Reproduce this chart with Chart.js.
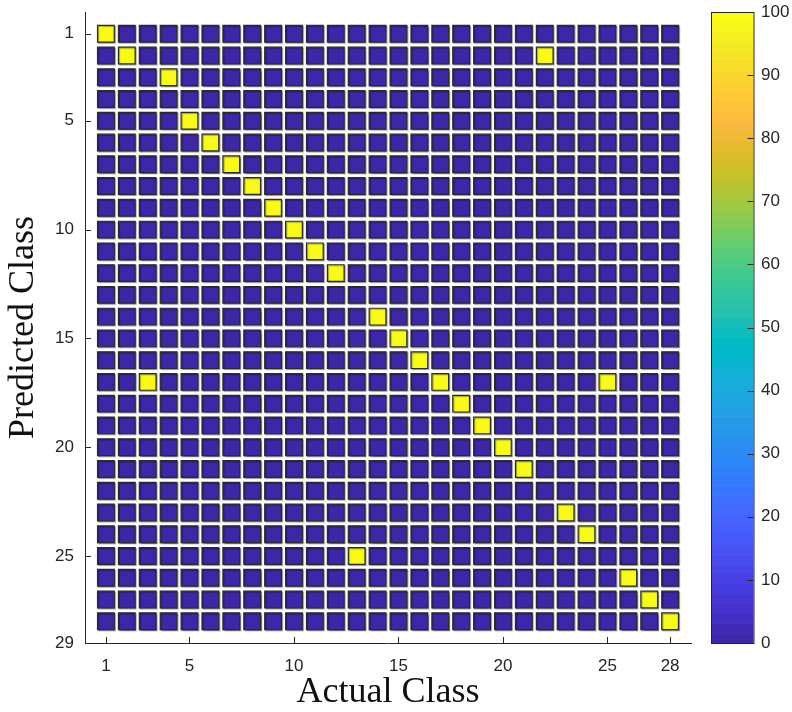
<!DOCTYPE html>
<html>
<head>
<meta charset="utf-8">
<script src="https://cdn.jsdelivr.net/npm/chart.js@4.4.1/dist/chart.umd.min.js"></script>
<style>
  html, body { margin: 0; padding: 0; background: #ffffff; }
  #wrap { width: 792px; height: 712px; }
</style>
</head>
<body>
<div id="wrap"><canvas id="cm" width="792" height="712"></canvas></div>
<script>
// Class labels along both axes
const classes = [1, 2, 3, 4, 5, 6, 7, 8, 9, 10, 11, 12, 13, 14, 15, 16, 17, 18, 19, 20, 21, 22, 23, 24, 25, 26, 27, 28];

// Non-zero cells: actual class -> predicted class, in percent of that actual class
const hitActual    = [1, 2, 3, 4, 5, 6, 7, 8, 9, 10, 11, 12, 13, 14, 15, 16, 17, 18, 19, 20, 21, 22, 23, 24, 25, 26, 27, 28];
const hitPredicted = [1, 2, 17, 3, 5, 6, 7, 8, 9, 10, 11, 12, 25, 14, 15, 16, 17, 18, 19, 20, 21, 2, 23, 24, 17, 26, 27, 28];
const hitPercent   = [100, 100, 100, 100, 100, 100, 100, 100, 100, 100, 100, 100, 100, 100, 100, 100, 100, 100, 100, 100, 100, 100, 100, 100, 100, 100, 100, 100];

// Axis tick labels
const xTicks = [1, 5, 10, 15, 20, 25, 28];
const yTicks = [1, 5, 10, 15, 20, 25, 29];
const colorbarTicks = [0, 10, 20, 30, 40, 50, 60, 70, 80, 90, 100];

// Parula colormap, 64 steps
const parula = [
  [0.2422,0.1504,0.6603],[0.2504,0.1650,0.7076],[0.2578,0.1818,0.7511],[0.2647,0.1978,0.7952],
  [0.2706,0.2147,0.8364],[0.2751,0.2342,0.8710],[0.2783,0.2559,0.8991],[0.2803,0.2782,0.9221],
  [0.2813,0.3006,0.9414],[0.2810,0.3228,0.9579],[0.2795,0.3447,0.9717],[0.2760,0.3667,0.9829],
  [0.2699,0.3892,0.9906],[0.2602,0.4123,0.9952],[0.2440,0.4358,0.9988],[0.2206,0.4603,0.9973],
  [0.1963,0.4847,0.9892],[0.1834,0.5074,0.9798],[0.1786,0.5289,0.9682],[0.1764,0.5499,0.9520],
  [0.1687,0.5703,0.9359],[0.1540,0.5902,0.9218],[0.1460,0.6091,0.9079],[0.1380,0.6276,0.8973],
  [0.1248,0.6459,0.8883],[0.1113,0.6635,0.8763],[0.0952,0.6798,0.8598],[0.0689,0.6948,0.8394],
  [0.0297,0.7082,0.8163],[0.0036,0.7203,0.7917],[0.0067,0.7312,0.7660],[0.0433,0.7411,0.7394],
  [0.0964,0.7500,0.7120],[0.1408,0.7584,0.6842],[0.1717,0.7670,0.6554],[0.1938,0.7758,0.6251],
  [0.2161,0.7843,0.5923],[0.2470,0.7918,0.5567],[0.2906,0.7973,0.5188],[0.3406,0.8008,0.4789],
  [0.3909,0.8029,0.4354],[0.4456,0.8024,0.3909],[0.5044,0.7993,0.3480],[0.5616,0.7942,0.3045],
  [0.6174,0.7876,0.2612],[0.6720,0.7793,0.2227],[0.7242,0.7698,0.1910],[0.7738,0.7598,0.1646],
  [0.8203,0.7498,0.1535],[0.8634,0.7406,0.1596],[0.9035,0.7330,0.1774],[0.9393,0.7288,0.2100],
  [0.9728,0.7298,0.2394],[0.9956,0.7434,0.2371],[0.9970,0.7659,0.2199],[0.9952,0.7893,0.2028],
  [0.9892,0.8136,0.1885],[0.9786,0.8386,0.1766],[0.9676,0.8639,0.1643],[0.9610,0.8890,0.1537],
  [0.9597,0.9135,0.1423],[0.9628,0.9373,0.1265],[0.9691,0.9606,0.1064],[0.9769,0.9839,0.0805]
];
const CMIN = 0, CMAX = 100;

function rgbOf(c) {
  return 'rgb(' + Math.round(c[0] * 255) + ',' + Math.round(c[1] * 255) + ',' + Math.round(c[2] * 255) + ')';
}
function colorFor(v) {
  const t = Math.min(1, Math.max(0, (v - CMIN) / (CMAX - CMIN)));
  return rgbOf(parula[Math.min(parula.length - 1, Math.floor(t * parula.length))]);
}

// Full matrix: every (actual, predicted) pair, zero unless listed above
const cells = [];
for (const p of classes) {
  for (const a of classes) {
    let v = 0;
    for (let k = 0; k < hitActual.length; k++) {
      if (hitActual[k] === a && hitPredicted[k] === p) v = hitPercent[k];
    }
    cells.push({ x: a, y: p, v: v });
  }
}

const INK = '#262626';
const tickFont = { family: '"Liberation Sans", Arial, Helvetica, sans-serif', size: 17 };
const titleFont = { family: '"Liberation Serif", "Times New Roman", serif', size: 36, lineHeight: 1 };

// Keep label overflow from pushing the plot area around
function tightVertical(width) {
  return (s) => {
    s.width = width;
    s.paddingTop = 8;
    s.paddingBottom = 8;
  };
}

// Inward tick marks on both axes, plus the colorbar with its own ticks
const decorations = {
  id: 'decorations',
  beforeDatasetsDraw(chart) {
    const ctx = chart.ctx;
    ctx.save();
    ctx.shadowColor = 'rgba(0,0,0,0.35)';
    ctx.shadowOffsetX = 1;
    ctx.shadowOffsetY = 1;
    ctx.shadowBlur = 1;
  },
  afterDatasetsDraw(chart) {
    chart.ctx.restore();
  },
  afterDraw(chart) {
    const ctx = chart.ctx;
    const area = chart.chartArea;
    const xs = chart.scales.x, ys = chart.scales.y, cb = chart.scales.cb;
    ctx.save();
    ctx.strokeStyle = INK;
    ctx.lineWidth = 1;
    ctx.beginPath();
    for (const t of xTicks) {
      const px = Math.round(xs.getPixelForValue(t)) + 0.5;
      ctx.moveTo(px, area.bottom);
      ctx.lineTo(px, area.bottom - 6);
    }
    for (const t of yTicks) {
      const py = Math.round(ys.getPixelForValue(t)) + 0.5;
      ctx.moveTo(area.left, py);
      ctx.lineTo(area.left + 6, py);
    }
    ctx.stroke();

    // colorbar
    const x0 = area.right + 20, w = 42.5;
    const yTop = cb.getPixelForValue(CMAX), yBot = cb.getPixelForValue(CMIN);
    const n = parula.length;
    for (let i = 0; i < n; i++) {
      const v0 = CMIN + (CMAX - CMIN) * i / n;
      const v1 = CMIN + (CMAX - CMIN) * (i + 1) / n;
      const y0 = cb.getPixelForValue(v0), y1 = cb.getPixelForValue(v1);
      ctx.fillStyle = rgbOf(parula[i]);
      ctx.fillRect(x0, y1, w, y0 - y1 + 0.6);
    }
    ctx.strokeStyle = INK;
    ctx.strokeRect(x0 + 0.5, yTop + 0.5, w, yBot - yTop);
    ctx.beginPath();
    for (const t of colorbarTicks) {
      const py = Math.round(cb.getPixelForValue(t)) + 0.5;
      ctx.moveTo(x0 + w, py);
      ctx.lineTo(x0 + w - 6, py);
    }
    ctx.stroke();
    ctx.restore();
  }
};

function cellSide(ctx) {
  const xs = ctx.chart.scales.x;
  return Math.abs(xs.getPixelForValue(1) - xs.getPixelForValue(0)) * 0.8;
}

new Chart(document.getElementById('cm'), {
  type: 'scatter',
  data: {
    datasets: [{
      data: cells,
      pointStyle: 'rect',
      pointRadius: (ctx) => cellSide(ctx) / Math.SQRT2,
      pointHoverRadius: (ctx) => cellSide(ctx) / Math.SQRT2,
      backgroundColor: (ctx) => colorFor(ctx.raw ? ctx.raw.v : 0),
      borderColor: '#2b2b2b',
      borderWidth: 1.2
    }]
  },
  options: {
    responsive: false,
    animation: false,
    events: [],
    layout: { padding: { top: 12, left: 0, right: 0, bottom: 0 } },
    plugins: { legend: { display: false }, tooltip: { enabled: false } },
    scales: {
      x: {
        type: 'linear',
        position: 'bottom',
        min: 0,
        max: 29,
        afterBuildTicks: (s) => { s.ticks = xTicks.map(v => ({ value: v })); },
        afterFit: (s) => { s.height = 69; s.paddingLeft = 0; s.paddingRight = 0; },
        grid: { display: false, drawTicks: false },
        border: { display: true, color: INK, width: 1 },
        ticks: { color: INK, font: tickFont, padding: 13, maxRotation: 0, autoSkip: false },
        title: { display: true, text: 'Actual Class', color: '#111111', font: titleFont, padding: { top: 0, bottom: 1 } }
      },
      y: {
        type: 'linear',
        position: 'left',
        reverse: true,
        min: 0,
        max: 29,
        afterBuildTicks: (s) => { s.ticks = yTicks.map(v => ({ value: v })); },
        afterFit: tightVertical(85),
        grid: { display: false, drawTicks: false },
        border: { display: true, color: INK, width: 1 },
        ticks: { color: INK, font: tickFont, padding: 11, autoSkip: false },
        title: { display: true, text: 'Predicted Class', color: '#111111', font: titleFont, padding: { top: 6, bottom: 0 } }
      },
      cb: {
        type: 'linear',
        position: 'right',
        min: CMIN,
        max: CMAX,
        afterBuildTicks: (s) => { s.ticks = colorbarTicks.map(v => ({ value: v })); },
        afterFit: tightVertical(101),
        grid: { display: false, drawTicks: false },
        border: { display: false },
        ticks: { color: INK, font: tickFont, padding: 70, autoSkip: false }
      }
    }
  },
  plugins: [decorations]
});
</script>
</body>
</html>
